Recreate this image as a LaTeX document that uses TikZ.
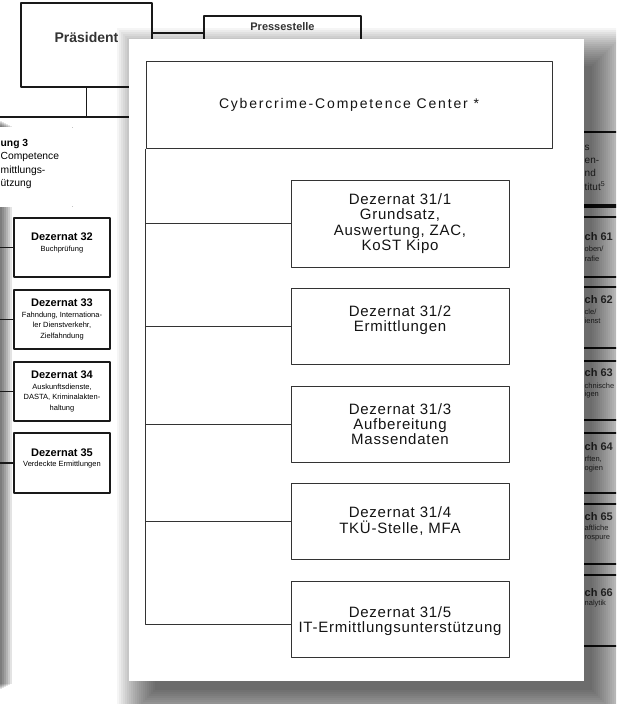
\documentclass[tikz,border=0pt]{standalone}
\usepackage{fontspec}
\setmainfont{Liberation Sans}
\newfontfamily\ccfont[LetterSpace=13]{Liberation Sans}
\newfontfamily\dzfont[LetterSpace=5]{Liberation Sans}
\usetikzlibrary{positioning,calc}
\newcommand\oldtitle[1]{{\bfseries\fontsize{11}{11}\selectfont #1}}
\tikzset{
  oldbox/.style={draw=black!90, line width=1.1pt, fill=white, inner sep=1pt, align=center},
  oldline/.style={draw=black!90, line width=1.1pt},
  oldsmall/.style={font=\fontsize{7.5}{10.5}\selectfont},
  newbox/.style={draw=black!80, line width=1pt, fill=white, inner sep=0pt, align=center, text=black!92},
  dzbox/.style={newbox, minimum width=218pt, minimum height=76pt, font=\dzfont\fontsize{15}{15.3}\selectfont},
  newline/.style={draw=black!80, line width=1pt},
}
\begin{document}
\begin{tikzpicture}[x=1pt,y=-1pt,line join=round]
\def\pgleft{129}
\def\pgright{584}
\def\pgtop{39}
\def\pgbot{681}
\useasboundingbox (0,0) rectangle (616,704);
\clip (0,0) rectangle (616,704);
\fill[white] (0,0) rectangle (616,704);
\foreach \k in {1,...,6} \fill[black, opacity=0.11] (-5,120+\k) rectangle (2*\k,690-\k);
\node[oldbox, minimum width=131pt, minimum height=84pt, text=black!80, font=\bfseries\fontsize{14}{16}\selectfont] (praes) at (86.5,45) {Präsident\\\mbox{}};
\node[oldbox, minimum width=157pt, minimum height=34pt] (presse) at (282.5,33) {};
\node[text=black!80, font=\bfseries\fontsize{11}{12}\selectfont] (pressetxt) at (282.5,27) {Pressestelle};
\draw[oldline] (praes.east |- presse.west) -- (presse.west);
\coordinate (bus) at (86.5,117);
\coordinate (busW) at (-5,117);
\coordinate (busE) at (140,117);
\draw[oldline] (praes.south) -- (bus);
\draw[oldline] (busW) -- (busE);
\node[draw=black!90, double, double distance=1.3pt, line width=0.7pt, fill=white, minimum width=132pt, minimum height=78pt] (abt) at (6,167) {};
\foreach \t/\y [count=\i] in {{\bfseries ung 3}/144, Competence/157, mittlungs-/171, ützung/184}
  \node[anchor=west, inner sep=0pt, font=\fontsize{10.3}{12}\selectfont] (abt\i) at (0.5,\y) {\t};
\node[oldbox, oldsmall, minimum width=96pt, minimum height=59pt] (d32) at (62,247.5) {\oldtitle{Dezernat 32}\\Buchprüfung\\\mbox{}};
\node[oldbox, oldsmall, minimum width=96pt, minimum height=59pt] (d33) at (62,319.5) {\oldtitle{Dezernat 33}\\Fahndung, Internationa-\\ler Dienstverkehr,\\Zielfahndung};
\node[oldbox, oldsmall, minimum width=96pt, minimum height=59pt] (d34) at (62,391.5) {\oldtitle{Dezernat 34}\\Auskunftsdienste,\\DASTA, Kriminalakten-\\haltung};
\node[oldbox, oldsmall, minimum width=96pt, minimum height=60pt] (d35) at (62,463) {\oldtitle{Dezernat 35}\\Verdeckte Ermittlungen\\\mbox{}};
\foreach \n in {32,...,35} \draw[oldline] (d\n.west) -- (d\n.west -| busW);
\foreach \y in {132,205,207,217,277,287,348,361,420,433,493,504,564,575,646} \draw[oldline] (560,\y) -- (620,\y);
\foreach \t/\y [count=\i] in {s/148, en-/161, nd/173, {titut\textsuperscript{5}}/186}
  \node[anchor=west, inner sep=0pt, text=black!75, font=\fontsize{10}{12}\selectfont] (ri\i) at (584.5,\y) {\t};
\foreach \t/\y [count=\i] in {{ch 61}/237, {ch 62}/300, {ch 63}/373, {ch 64}/447, {ch 65}/517, {ch 66}/593}
  \node[anchor=west, inner sep=0pt, text=black!75, font=\bfseries\fontsize{11}{12}\selectfont] (rh\i) at (584.5,\y) {\t};
\foreach \t/\y [count=\i] in {{oben/}/249, {rafie}/259, {cle/}/312, {ienst}/321, {chnische}/386, {igen}/395, {rften,}/459, {ogien}/469, {aftliche}/528, {rospure}/538, {nalytik}/604}
  \node[anchor=west, inner sep=0pt, text=black!75, oldsmall] (rs\i) at (584.5,\y) {\t};
\foreach \k in {0,...,19} \fill[black, opacity=0.04] (155-2*\k,66-2*\k) rectangle (592+2*\k,690+2*\k);
\fill[white] (\pgleft,\pgtop) rectangle (\pgright,\pgbot);
\node[newbox, minimum width=406pt, minimum height=87pt, font=\ccfont\fontsize{14}{16}\selectfont] (cc) at (349,104.5) {Cybercrime-Competence Center *};
\node[dzbox, minimum height=87pt] (d1) at (400,223.5) {Dezernat 31/1\\Grundsatz,\\Auswertung, ZAC,\\KoST Kipo};
\node[dzbox] (d2) at (400,326) {Dezernat 31/2\\Ermittlungen\\\mbox{}};
\node[dzbox] (d3) at (400,424) {Dezernat 31/3\\Aufbereitung\\Massendaten};
\node[dzbox] (d4) at (400,521) {Dezernat 31/4\\TKÜ-Stelle, MFA};
\node[dzbox] (d5) at (400,619) {\mbox{}\\Dezernat 31/5\\IT-Ermittlungsunterstützung};
\coordinate (j5) at ($(cc.west |- d5.west)+(0,5)$);
\draw[newline] (cc.south west) -- (j5) -- (j5 -| d5.west);
\foreach \i in {1,...,4} \draw[newline] (cc.west |- d\i.west) -- (d\i.west);
\end{tikzpicture}
\end{document}
